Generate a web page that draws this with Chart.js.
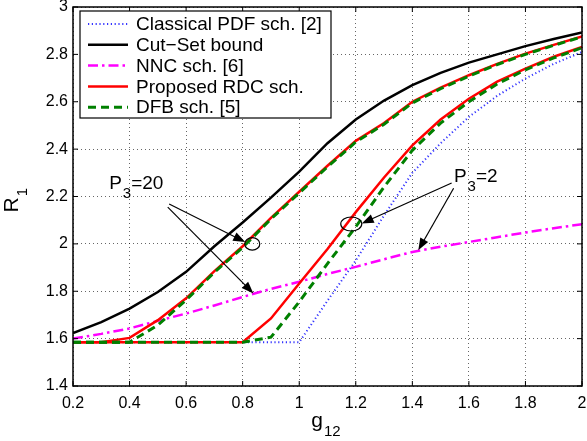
<!DOCTYPE html>
<html lang="en">
<head>
  <meta charset="UTF-8">
  <title>R1 vs g12</title>
  <script src="https://cdn.jsdelivr.net/npm/chart.js"></script>
  <style>
    html, body { margin: 0; padding: 0; background: #fff; }
    #wrap { width: 587px; height: 441px; }
  </style>
</head>
<body>
  <div id="wrap"><canvas id="rateChart" width="587" height="441"></canvas></div>
  <script>
    const FONT = "'Liberation Sans', Arial, sans-serif";

    // g12 values
    const xs = [0.2, 0.3, 0.4, 0.5, 0.6, 0.7, 0.8, 0.9, 1.0, 1.1, 1.2, 1.3, 1.4, 1.5, 1.6, 1.7, 1.8, 1.9, 2.0];

    // R1 values
    const cutSet = [1.623, 1.67, 1.727, 1.797, 1.882, 1.99, 2.09, 2.195, 2.305, 2.425, 2.525, 2.605, 2.67, 2.722, 2.765, 2.80, 2.835, 2.865, 2.892];
    const pdfP2  = [1.585, 1.585, 1.585, 1.585, 1.585, 1.585, 1.585, 1.585, 1.585, 1.76, 1.93, 2.12, 2.30, 2.425, 2.536, 2.625, 2.698, 2.76, 2.81];
    const nnc    = [1.60, 1.62, 1.643, 1.675, 1.706, 1.74, 1.776, 1.81, 1.84, 1.873, 1.903, 1.935, 1.966, 1.988, 2.008, 2.028, 2.048, 2.066, 2.083];
    const rdcP20 = [1.585, 1.585, 1.603, 1.678, 1.77, 1.885, 1.99, 2.11, 2.22, 2.33, 2.435, 2.51, 2.60, 2.66, 2.712, 2.76, 2.803, 2.84, 2.876];
    const rdcP2  = [1.585, 1.585, 1.585, 1.585, 1.585, 1.585, 1.585, 1.685, 1.833, 1.978, 2.134, 2.28, 2.416, 2.525, 2.613, 2.685, 2.74, 2.79, 2.831];
    const dfbP20 = [1.585, 1.585, 1.585, 1.657, 1.763, 1.88, 1.985, 2.105, 2.215, 2.325, 2.43, 2.505, 2.595, 2.655, 2.708, 2.757, 2.80, 2.838, 2.874];
    const dfbP2  = [1.585, 1.585, 1.585, 1.585, 1.585, 1.585, 1.585, 1.606, 1.755, 1.917, 2.072, 2.24, 2.395, 2.51, 2.60, 2.675, 2.735, 2.785, 2.828];

    const legendLabels = ['Classical PDF sch. [2]', 'Cut\u2212Set bound', 'NNC sch. [6]', 'Proposed RDC sch.', 'DFB sch. [5]'];

    const styles = {
      pdf: { color: '#3535ff', width: 2, dash: [1.2, 2.6] },
      cut: { color: '#000000', width: 2.5, dash: [] },
      nnc: { color: '#ff00ff', width: 2.5, dash: [10, 4, 2.5, 4] },
      rdc: { color: '#ff0000', width: 2.5, dash: [] },
      dfb: { color: '#008000', width: 3, dash: [8, 5] }
    };

    function pts(ys) {
      return ys.map((y, i) => ({ x: xs[i], y: y }));
    }

    function ds(ys, st, order) {
      return {
        data: pts(ys),
        borderColor: st.color,
        borderWidth: st.width,
        borderDash: st.dash,
        pointRadius: 0,
        tension: 0,
        fill: false,
        order: order
      };
    }

    // matlab style labels: 2 not 2.0
    const fmt = v => String(Number(v.toFixed(1)));

    function drawSub(ctx, x, y, main, sub, rest, size, subSize) {
      ctx.textAlign = 'left';
      ctx.textBaseline = 'alphabetic';
      ctx.font = size + 'px ' + FONT;
      ctx.fillText(main, x, y);
      const w = ctx.measureText(main).width;
      ctx.font = subSize + 'px ' + FONT;
      ctx.fillText(sub, x + w + 1, y + size * 0.45);
      const w2 = ctx.measureText(sub).width;
      if (rest) {
        ctx.font = size + 'px ' + FONT;
        ctx.fillText(rest, x + w + w2 + 1, y);
      }
    }

    function arrow(ctx, x1, y1, x2, y2) {
      const a = Math.atan2(y2 - y1, x2 - x1);
      const len = 12, half = 4.5;
      ctx.beginPath();
      ctx.moveTo(x1, y1);
      ctx.lineTo(x2 - Math.cos(a) * len * 0.8, y2 - Math.sin(a) * len * 0.8);
      ctx.stroke();
      ctx.beginPath();
      ctx.moveTo(x2, y2);
      ctx.lineTo(x2 - Math.cos(a) * len - Math.sin(a) * half, y2 - Math.sin(a) * len + Math.cos(a) * half);
      ctx.lineTo(x2 - Math.cos(a) * len + Math.sin(a) * half, y2 - Math.sin(a) * len - Math.cos(a) * half);
      ctx.closePath();
      ctx.fill();
    }

    const decor = {
      id: 'decor',
      afterDraw(chart) {
        const ctx = chart.ctx;
        const a = chart.chartArea;
        const xS = chart.scales.x, yS = chart.scales.y;
        const px = v => xS.getPixelForValue(v);
        const py = v => yS.getPixelForValue(v);
        ctx.save();

        // box and inward ticks
        ctx.strokeStyle = '#000';
        ctx.lineWidth = 1.5;
        ctx.setLineDash([]);
        ctx.strokeRect(a.left, a.top, a.right - a.left, a.bottom - a.top);
        ctx.lineWidth = 1;
        ctx.beginPath();
        xS.ticks.forEach(t => {
          const x = px(t.value);
          ctx.moveTo(x, a.bottom); ctx.lineTo(x, a.bottom - 5);
          ctx.moveTo(x, a.top); ctx.lineTo(x, a.top + 5);
        });
        yS.ticks.forEach(t => {
          const y = py(t.value);
          ctx.moveTo(a.left, y); ctx.lineTo(a.left + 5, y);
          ctx.moveTo(a.right, y); ctx.lineTo(a.right - 5, y);
        });
        ctx.stroke();

        // legend
        const lx = a.left + 7, ly = a.top + 4, lw = 251, lh = 107;
        ctx.fillStyle = '#fff';
        ctx.fillRect(lx, ly, lw, lh);
        ctx.strokeStyle = '#000';
        ctx.lineWidth = 1.2;
        ctx.strokeRect(lx, ly, lw, lh);
        const keys = ['pdf', 'cut', 'nnc', 'rdc', 'dfb'];
        ctx.font = '19px ' + FONT;
        ctx.textBaseline = 'middle';
        ctx.textAlign = 'left';
        keys.forEach((k, i) => {
          const st = styles[k];
          const y = ly + 13 + i * 20.8;
          ctx.strokeStyle = st.color;
          ctx.lineWidth = st.width;
          ctx.setLineDash(st.dash);
          ctx.beginPath();
          ctx.moveTo(lx + 8, y);
          ctx.lineTo(lx + 48, y);
          ctx.stroke();
          ctx.setLineDash([]);
          ctx.fillStyle = '#000';
          ctx.fillText(legendLabels[i], lx + 56, y + 1);
        });

        // annotations
        ctx.strokeStyle = '#000';
        ctx.fillStyle = '#000';
        ctx.lineWidth = 1.2;
        ctx.beginPath();
        ctx.ellipse(px(0.834), py(2.0), 7.5, 6.3, 0, 0, Math.PI * 2);
        ctx.stroke();
        ctx.beginPath();
        ctx.ellipse(px(1.184), py(2.084), 10.5, 7, 0, 0, Math.PI * 2);
        ctx.stroke();
        arrow(ctx, px(0.54), py(2.168), px(0.809), py(2.008));
        arrow(ctx, px(0.535), py(2.155), px(0.838), py(1.791));
        arrow(ctx, px(1.539), py(2.257), px(1.221), py(2.086));
        arrow(ctx, px(1.546), py(2.235), px(1.421), py(1.973));

        drawSub(ctx, px(0.328), py(2.231), 'P', '3', '=20', 19, 15);
        drawSub(ctx, px(1.547), py(2.26), 'P', '3', '=2', 19, 15);

        // axis titles
        ctx.font = '21px ' + FONT;
        const gw = ctx.measureText('g').width;
        ctx.font = '15px ' + FONT;
        const sw = ctx.measureText('12').width;
        drawSub(ctx, (a.left + a.right) / 2 - (gw + sw) / 2 - 2, a.bottom + 41, 'g', '12', '', 21, 15);

        ctx.save();
        ctx.translate(18, (a.top + a.bottom) / 2 + 8);
        ctx.rotate(-Math.PI / 2);
        drawSub(ctx, -8, 0, 'R', '1', '', 21, 15);
        ctx.restore();

        ctx.restore();
      }
    };

    const ctx = document.getElementById('rateChart').getContext('2d');
    new Chart(ctx, {
      type: 'line',
      data: {
        datasets: [
          ds(pdfP2, styles.pdf, 6),
          ds(cutSet, styles.cut, 5),
          ds(nnc, styles.nnc, 4),
          ds(rdcP20, styles.rdc, 3),
          ds(rdcP2, styles.rdc, 2),
          ds(dfbP20, styles.dfb, 1),
          ds(dfbP2, styles.dfb, 0)
        ]
      },
      options: {
        responsive: false,
        animation: false,
        layout: { padding: { top: 7, right: 5, left: 0, bottom: 0 } },
        plugins: {
          legend: { display: false },
          tooltip: { enabled: false }
        },
        scales: {
          x: {
            type: 'linear',
            min: 0.2,
            max: 2,
            ticks: {
              stepSize: 0.2,
              padding: 8,
              color: '#000',
              font: { family: FONT, size: 16 },
              maxRotation: 0,
              callback: v => fmt(v)
            },
            grid: { color: 'rgba(0,0,0,0.6)', lineWidth: 1, drawTicks: false },
            border: { display: false, dash: [1, 3] },
            afterFit: s => { s.height = 55; s.paddingLeft = 0; s.paddingRight = 0; }
          },
          y: {
            min: 1.4,
            max: 3,
            ticks: {
              stepSize: 0.2,
              padding: 5,
              color: '#000',
              font: { family: FONT, size: 16 },
              callback: v => fmt(v)
            },
            grid: { color: 'rgba(0,0,0,0.6)', lineWidth: 1, drawTicks: false },
            border: { display: false, dash: [1, 3] },
            afterFit: s => { s.width = 73; s.paddingTop = 0; s.paddingBottom = 0; }
          }
        }
      },
      plugins: [decor]
    });
  </script>
</body>
</html>
